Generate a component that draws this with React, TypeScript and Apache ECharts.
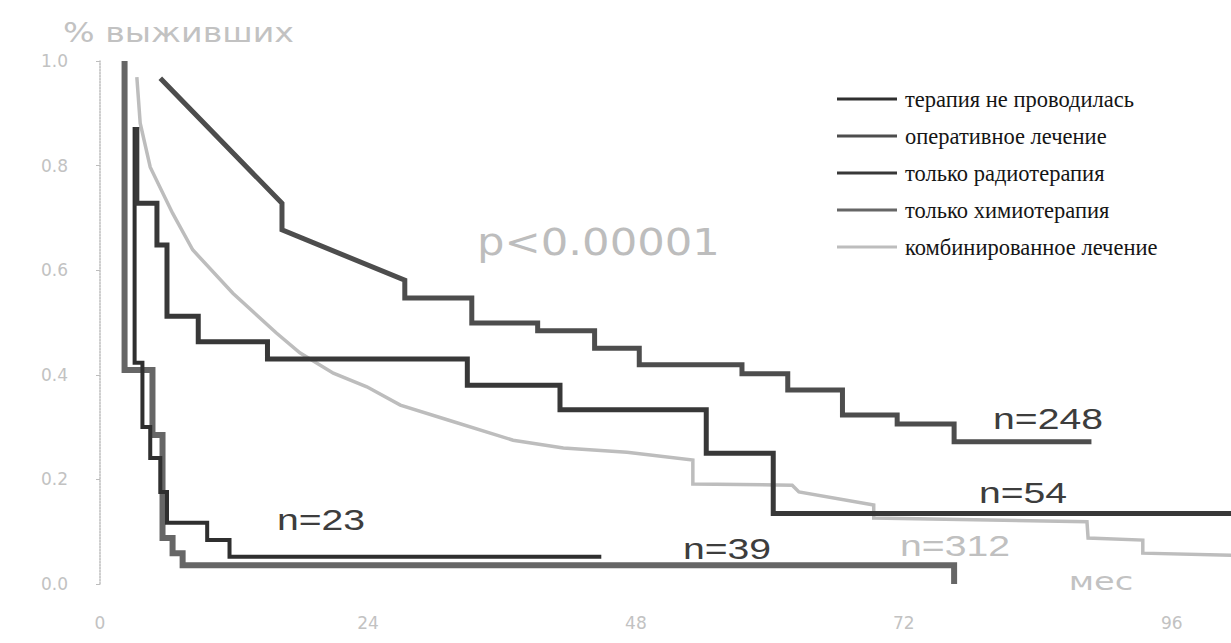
import React, { useEffect, useRef } from "react";
import * as echarts from "echarts";

// Legend / series names
const nameNone = "терапия не проводилась";
const nameSurg = "оперативное лечение";
const nameRadio = "только радиотерапия";
const nameChemo = "только химиотерапия";
const nameComb = "комбинированное лечение";
const legendOrder = [nameNone, nameSurg, nameRadio, nameChemo, nameComb];

// Axis ticks
const xTicks = [0, 24, 48, 72, 96];
const yTicks = [0, 0.2, 0.4, 0.6, 0.8, 1.0];

// n=248 curve (months, survival)
const surgMonths = [5.4, 16.3, 16.3, 27.3, 27.3, 33.3, 33.3, 39.2, 39.2, 44.3, 44.3, 48.3, 48.3, 57.5, 57.5, 61.6, 61.6, 66.5, 66.5, 71.4, 71.4, 76.5, 76.5, 88.8];
const surgSurv = [0.967, 0.728, 0.677, 0.581, 0.547, 0.547, 0.499, 0.499, 0.484, 0.484, 0.451, 0.451, 0.419, 0.419, 0.402, 0.402, 0.371, 0.371, 0.323, 0.323, 0.306, 0.306, 0.272, 0.272];

// n=54 curve
const radioMonths = [3.3, 3.3, 5.1, 5.1, 6.0, 6.0, 8.8, 8.8, 15.0, 15.0, 32.9, 32.9, 41.2, 41.2, 54.3, 54.3, 60.3, 60.3, 101.3];
const radioSurv = [0.874, 0.728, 0.728, 0.648, 0.648, 0.512, 0.512, 0.463, 0.463, 0.43, 0.43, 0.38, 0.38, 0.333, 0.333, 0.25, 0.25, 0.135, 0.135];

// n=312 curve
const combMonths = [3.3, 3.6, 4.5, 6.5, 8.3, 11.9, 15.8, 17.9, 20.9, 23.9, 26.9, 31.1, 37.0, 41.5, 47.2, 53.1, 53.1, 62.0, 62.6, 69.3, 69.3, 88.4, 88.5, 93.4, 93.4, 101.3];
const combSurv = [0.969, 0.881, 0.797, 0.709, 0.639, 0.556, 0.48, 0.442, 0.403, 0.377, 0.342, 0.314, 0.275, 0.26, 0.252, 0.237, 0.191, 0.189, 0.176, 0.151, 0.126, 0.119, 0.088, 0.084, 0.059, 0.055];

// n=39 curve
const chemoMonths = [2.2, 2.2, 4.7, 4.7, 5.6, 5.6, 6.5, 6.5, 7.4, 7.4, 76.5, 76.5];
const chemoSurv = [1.0, 0.409, 0.409, 0.285, 0.285, 0.088, 0.088, 0.059, 0.059, 0.036, 0.036, 0.0];

// n=23 curve
const noneMonths = [3.1, 3.1, 3.8, 3.8, 4.5, 4.5, 5.4, 5.4, 6.0, 6.0, 9.6, 9.6, 11.6, 11.6, 44.9];
const noneSurv = [0.874, 0.423, 0.423, 0.3, 0.3, 0.241, 0.241, 0.176, 0.176, 0.117, 0.117, 0.084, 0.084, 0.052, 0.052];

// Annotations
const nLabels = ["n=248", "n=54", "n=23", "n=39", "n=312"];
const pText = "p<0.00001";
const yTitle = "% выживших";
const xUnit = "мес";

const zip = (xs: number[], ys: number[]) => xs.map((x, i) => [x, ys[i]]);

export default function App() {
  const ref = useRef<HTMLDivElement>(null);
  useEffect(() => {
    const chart = echarts.init(ref.current!, null, { renderer: "svg" });
    const faint = "#c2c2c2";
    const mkLine = (name: string, data: number[][], color: string, width: number) => ({
      type: "line",
      name,
      data,
      symbol: "none",
      showSymbol: false,
      lineStyle: { color, width, join: "miter" },
      itemStyle: { color },
      silent: true,
    });
    const nText = (text: string, x: number, y: number, fill: string) => ({
      type: "text",
      x,
      y,
      scaleX: 1.35,
      style: {
        text,
        fill,
        fontSize: 29,
        fontFamily: "Liberation Sans",
        align: "center",
        verticalAlign: "middle",
      },
    });
    chart.setOption({
      animation: false,
      backgroundColor: "#ffffff",
      grid: { left: 100, right: 0, top: 61, bottom: 59, containLabel: false },
      xAxis: {
        type: "value",
        min: 0,
        max: 101.3,
        interval: 24,
        axisLine: { show: false },
        axisTick: { show: false },
        splitLine: { show: false },
        axisLabel: {
          color: faint,
          fontSize: 17,
          fontFamily: "DejaVu Sans",
          margin: 30,
          showMaxLabel: false,
          formatter: (v: number) => (xTicks.includes(v) ? String(v) : ""),
        },
      },
      yAxis: {
        type: "value",
        min: 0,
        max: 1,
        interval: 0.2,
        axisLine: { show: true, lineStyle: { color: "#bdbdbd", width: 1.5, type: "dotted" } },
        axisTick: { show: true, length: 4, lineStyle: { color: "#bdbdbd" } },
        splitLine: { show: false },
        axisLabel: {
          color: faint,
          fontSize: 17,
          fontFamily: "DejaVu Sans",
          margin: 32,
          formatter: (v: number) => (yTicks.some((t) => Math.abs(t - v) < 1e-6) ? v.toFixed(1) : ""),
        },
      },
      legend: {
        orient: "vertical",
        left: 832,
        top: 81,
        icon: "rect",
        itemWidth: 60,
        itemHeight: 3,
        itemGap: 11,
        data: legendOrder,
        textStyle: { fontFamily: "Liberation Serif", fontSize: 22.5, color: "#151515", lineHeight: 26, padding: [0, 0, 0, 3] },
      },
      graphic: [
        {
          type: "text",
          x: 63,
          y: 33,
          scaleX: 1.28,
          style: { text: yTitle, fill: faint, fontSize: 26, fontFamily: "DejaVu Sans", align: "left", verticalAlign: "middle" },
        },
        {
          type: "text",
          x: 477,
          y: 242,
          scaleX: 1.14,
          style: { text: pText, fill: "#bdbdbd", fontSize: 38, fontFamily: "DejaVu Sans", align: "left", verticalAlign: "middle" },
        },
        {
          type: "text",
          x: 1101,
          y: 582,
          scaleX: 1.4,
          style: { text: xUnit, fill: faint, fontSize: 24, fontFamily: "DejaVu Sans", align: "center", verticalAlign: "middle" },
        },
        nText(nLabels[0], 1048, 419, "#3d3d3d"),
        nText(nLabels[1], 1023, 493, "#3d3d3d"),
        nText(nLabels[2], 321, 520, "#3d3d3d"),
        nText(nLabels[3], 727, 549, "#3d3d3d"),
        nText(nLabels[4], 955, 546, "#c0c0c0"),
      ],
      series: [
        mkLine(nameComb, zip(combMonths, combSurv), "#bdbdbd", 3.5),
        mkLine(nameChemo, zip(chemoMonths, chemoSurv), "#666666", 6),
        mkLine(nameNone, zip(noneMonths, noneSurv), "#2f2f2f", 4),
        mkLine(nameRadio, zip(radioMonths, radioSurv), "#383838", 5),
        mkLine(nameSurg, zip(surgMonths, surgSurv), "#4d4d4d", 5),
      ],
    });
    return () => chart.dispose();
  }, []);
  return (
    <div
      ref={ref}
      style={{ position: "fixed", left: 0, top: 0, width: 1231, height: 643, background: "#fff" }}
    />
  );
}
